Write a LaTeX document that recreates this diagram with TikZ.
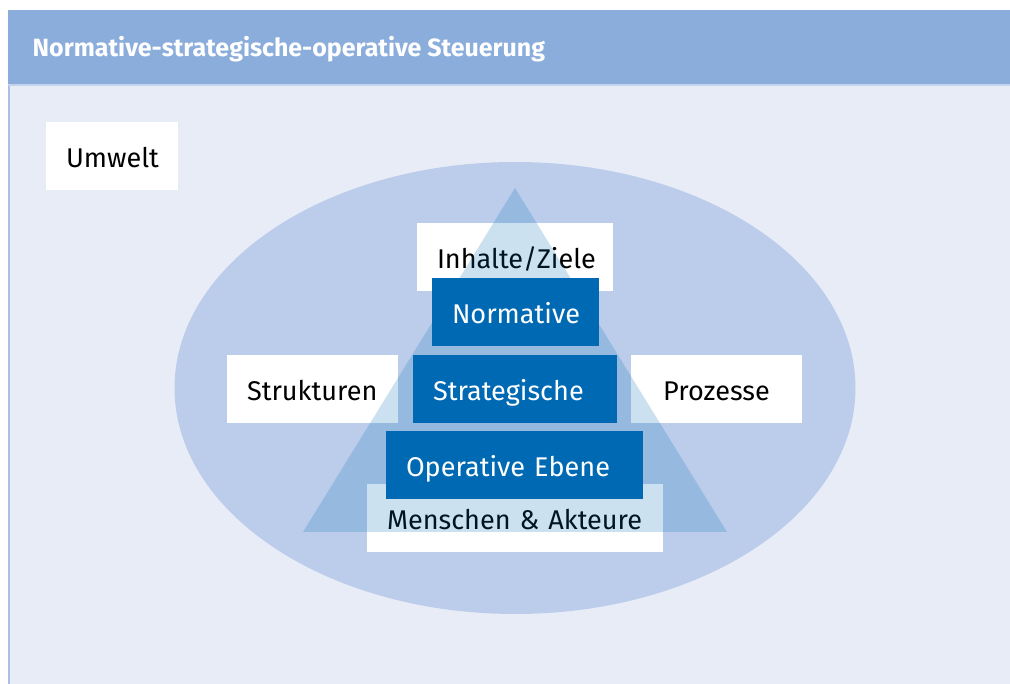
\documentclass[tikz,border=0pt]{standalone}
\usepackage{fontspec}
\setmainfont{Fira Sans}
\usepackage{xcolor,tikz}
\usetikzlibrary{positioning}
\definecolor{headblue}{HTML}{8BADDB}
\definecolor{paleblue}{HTML}{E8ECF7}
\definecolor{ovalblue}{HTML}{BCCDEB}
\definecolor{darkblue}{HTML}{0069B4}
\definecolor{lineblue}{HTML}{A9C0E4}
\tikzset{
  lightbox/.style={fill=white, text=black, minimum height=0.68cm, inner xsep=0.2cm, inner ysep=0pt, text height=0.75em, text depth=0.12em, align=left, font=\fontsize{7.7}{10}\selectfont},
  darkbox/.style={lightbox, fill=darkblue, text=white},
}
\begin{document}
\begin{tikzpicture}
\useasboundingbox (0,0) rectangle (10.10,6.84);
\fill[paleblue] (0.08,0) rectangle (10.10,5.99);
\fill[headblue] (0.08,5.99) rectangle (10.10,6.74);
\draw[lineblue, line width=0.6pt] (0.09,0) -- (0.09,5.99);
\draw[lineblue!70, line width=0.4pt] (0.08,5.99) -- (10.10,5.99);
\node[anchor=west, inner sep=0pt, text=white, font=\bfseries\fontsize{7.1}{9}\selectfont] (titel) at (0.32,6.35) {Normative-strategische-operative Steuerung};
\fill[ovalblue] (5.15,2.96) ellipse [x radius=3.405, y radius=2.26];
\node[lightbox, text width=0.92cm] (umwelt) at (1.12,5.28) {Umwelt};
\node[lightbox, text width=1.56cm] (inhalte) at (5.15,4.27) {Inhalte/Ziele};
\node[lightbox, text width=1.31cm] (strukturen) at (3.125,2.95) {Strukturen};
\node[lightbox, text width=1.31cm, align=center] (prozesse) at (7.165,2.95) {Prozesse};
\node[lightbox, text width=2.56cm] (menschen) at (5.15,1.66) {\mbox{Menschen \& Akteure}};
\fill[darkblue, fill opacity=0.2] (5.15,4.96) -- (7.27,1.52) -- (3.03,1.52) -- cycle;
\node[darkbox, text width=1.27cm] (normative) at (5.155,3.72) {Normative};
\node[darkbox, text width=1.64cm] (strat) at (5.15,2.95) {Strategische};
\node[darkbox, text width=2.17cm] (operativ) at (5.145,2.19) {\mbox{Operative Ebene}};
\end{tikzpicture}
\end{document}
